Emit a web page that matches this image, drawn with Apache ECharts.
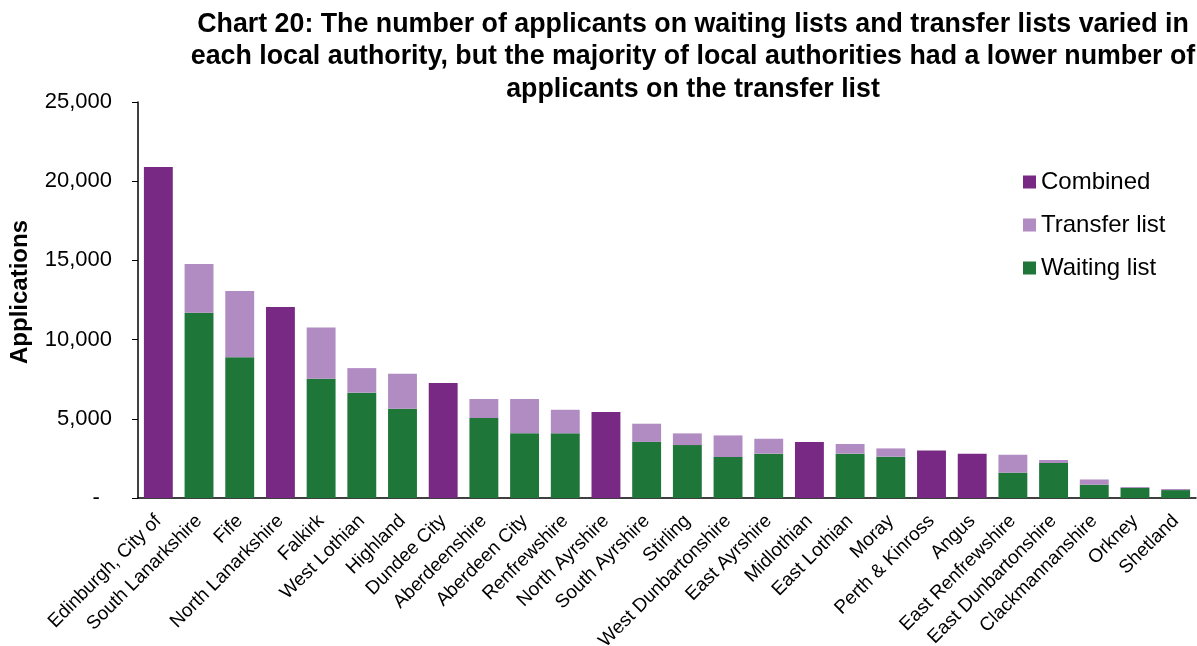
<!DOCTYPE html>
<html>
<head>
<meta charset="utf-8">
<script src="https://cdn.jsdelivr.net/npm/echarts@6/dist/echarts.min.js"></script>
<style>
  html, body { margin: 0; padding: 0; background: #fff; }
  #chart { width: 1197px; height: 646px; }
</style>
</head>
<body>
<div id="chart"></div>
<script>
// local authorities, in chart order
var authorities = ["Edinburgh, City of", "South Lanarkshire", "Fife", "North Lanarkshire", "Falkirk",
  "West Lothian", "Highland", "Dundee City", "Aberdeenshire", "Aberdeen City", "Renfrewshire",
  "North Ayrshire", "South Ayrshire", "Stirling", "West Dunbartonshire", "East Ayrshire", "Midlothian",
  "East Lothian", "Moray", "Perth & Kinross", "Angus", "East Renfrewshire", "East Dunbartonshire",
  "Clackmannanshire", "Orkney", "Shetland"];

// '-' where the authority only reports a combined list
var waitingList = ['-', 11700, 8880, '-', 7530, 6650, 5640, '-', 5050, 4080, 4080,
  '-', 3540, 3340, 2590, 2800, '-', 2800, 2610, '-', '-', 1600, 2210, 840, 630, 500];
var transferList = ['-', 3070, 4190, '-', 3240, 1550, 2210, '-', 1200, 2170, 1490,
  '-', 1150, 740, 1360, 940, '-', 610, 520, '-', '-', 1130, 190, 330, 60, 70];
var combined = [20900, '-', '-', 12060, '-', '-', '-', 7260, '-', '-', '-',
  5430, '-', '-', '-', '-', 3540, '-', '-', 3000, 2800, '-', '-', '-', '-', '-'];

var yTicks = { min: 0, max: 25000, interval: 5000 };

var font = "Arial, 'Liberation Sans', sans-serif";

var chart = echarts.init(document.getElementById("chart"));
chart.setOption({
  animation: false,
  textStyle: { fontFamily: font },
  title: {
    text: "Chart 20: The number of applicants on waiting lists and transfer lists varied in\n" +
          "each local authority, but the majority of local authorities had a lower number of\n" +
          "applicants on the transfer list",
    left: 688,
    top: 3,
    textAlign: "center",
    textStyle: {
      fontFamily: font,
      fontSize: 26.8,
      fontWeight: "bold",
      color: "#000",
      lineHeight: 32.5
    }
  },
  legend: {
    orient: "vertical",
    left: 1018,
    top: 165,
    icon: "rect",
    itemWidth: 13,
    itemHeight: 13,
    itemGap: 19,
    itemTextGap: 6,
    data: ["Combined", "Transfer list", "Waiting list"],
    textStyle: { fontFamily: font, fontSize: 24, color: "#000" }
  },
  grid: {
    left: 138,
    right: 1,
    top: 102,
    bottom: 148,
    containLabel: false,
    outerBoundsMode: "none"
  },
  xAxis: {
    type: "category",
    data: authorities,
    axisLine: { lineStyle: { color: "#000", width: 1.5 } },
    axisTick: { length: 6, lineStyle: { color: "#000" } },
    axisLabel: {
      rotate: 45,
      interval: 0,
      margin: 20,
      fontFamily: font,
      fontSize: 19,
      color: "#000"
    }
  },
  yAxis: {
    type: "value",
    min: yTicks.min,
    max: yTicks.max,
    interval: yTicks.interval,
    name: "Applications",
    nameLocation: "middle",
    nameGap: 106,
    nameTextStyle: {
      fontFamily: font,
      fontSize: 24,
      fontWeight: "bold",
      color: "#000",
      padding: [0, 0, 0, 16]
    },
    splitLine: { show: false },
    axisLine: { show: true, lineStyle: { color: "#000", width: 1.5 } },
    axisTick: { show: true, length: 6, lineStyle: { color: "#000" } },
    axisLabel: {
      margin: 26,
      fontFamily: font,
      fontSize: 22,
      color: "#000",
      formatter: function (v) {
        return v === 0 ? "-  " : v.toLocaleString("en-GB");
      }
    }
  },
  series: [
    {
      name: "Waiting list",
      type: "bar",
      stack: "total",
      barCategoryGap: "29%",
      itemStyle: { color: "#1E7639" },
      data: waitingList
    },
    {
      name: "Transfer list",
      type: "bar",
      stack: "total",
      itemStyle: { color: "#B08CC2" },
      data: transferList
    },
    {
      name: "Combined",
      type: "bar",
      stack: "total",
      itemStyle: { color: "#772983" },
      data: combined
    }
  ]
});
</script>
</body>
</html>
